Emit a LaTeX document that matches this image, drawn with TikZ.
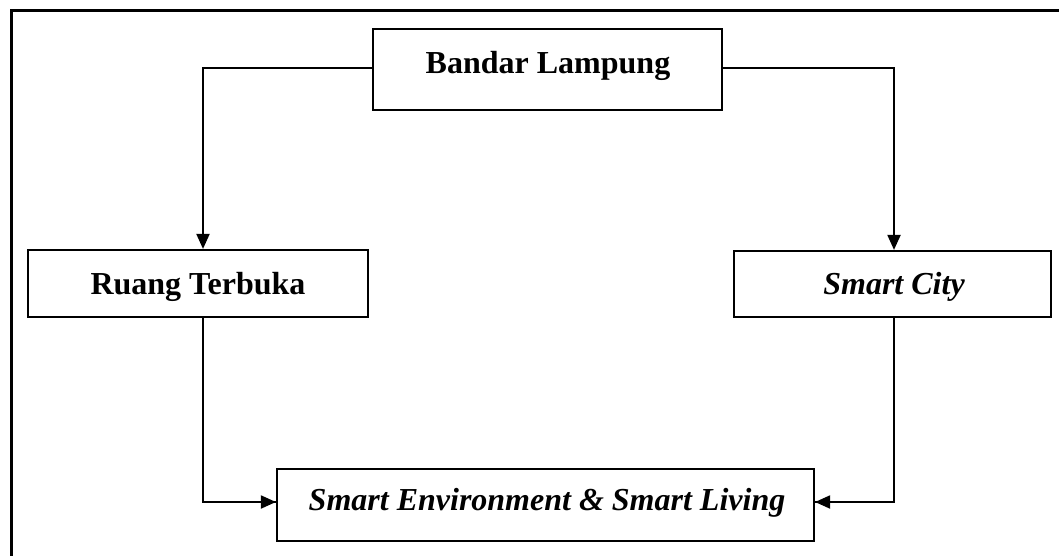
\documentclass[tikz,border=0pt]{standalone}
\usepackage{fontspec}
\setmainfont{Liberation Serif}
\usetikzlibrary{arrows.meta}
\tikzset{
  box/.style={draw, line width=2.2pt, inner sep=0pt},
  lbl/.style={font=\fontsize{32}{38}\selectfont\bfseries, inner sep=0pt},
  ilbl/.style={font=\fontsize{32}{38}\selectfont\bfseries\itshape, inner sep=0pt},
  conn/.style={line width=2pt, -{Triangle[length=15pt,width=13pt]}},
  thin conn/.style={line width=1.1pt},
  frame/.style={line width=3pt}
}
\begin{document}
\begin{tikzpicture}[x=1pt,y=-1pt]
\useasboundingbox (0,0) rectangle (1059,555);
\fill[white] (0,0) rectangle (1059,555);
% outer frame (extends beyond picture)
\draw[frame] (11,600) -- (11,10.5) -- (1100,10.5);
% boxes
\node[box, minimum width=349pt, minimum height=81pt] (bl) at (547.5,69.5) {};
\node[lbl] (bltext) at (548,66) {Bandar Lampung};
\node[box, minimum width=340pt, minimum height=67pt] (rt) at (198,283.5) {};
\node[lbl] (rttext) at (198,286.5) {Ruang Terbuka};
\node[box, minimum width=317pt, minimum height=66pt] (sc) at (892.5,284) {};
\node[ilbl] (sctext) at (894,287) {Smart City};
\node[box, minimum width=537pt, minimum height=72pt] (se) at (545.5,505) {};
\node[ilbl] (setext) at (547,503) {Smart Environment \& Smart Living};
% connectors
\draw[conn] ([yshift=1.5pt]bl.west) -| ([xshift=5pt]rt.north);
\draw[conn] ([yshift=1.5pt]bl.east) -| ([xshift=1.5pt]sc.north);
\draw[thin conn] ([xshift=5pt]rt.south) |- ([yshift=3pt]se.west);
\draw[conn] ([xshift=5pt,yshift=3pt]rt.south |- se.west) -- ([yshift=3pt]se.west);
\draw[thin conn] ([xshift=1.5pt]sc.south) |- ([yshift=3pt]se.east);
\draw[conn] ([xshift=1.5pt,yshift=3pt]sc.south |- se.east) -- ([yshift=3pt]se.east);
\end{tikzpicture}
\end{document}
